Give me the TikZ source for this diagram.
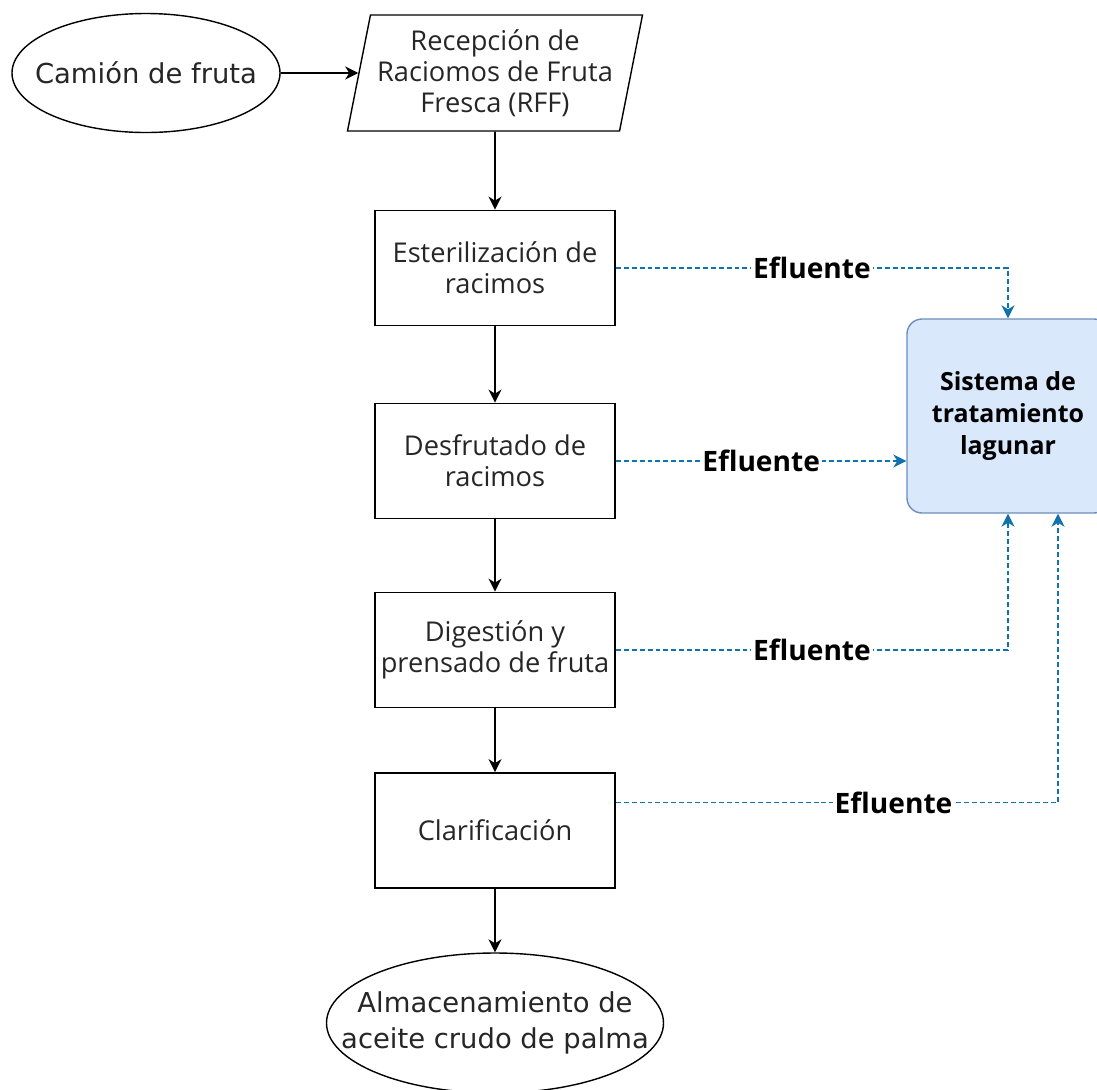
\documentclass[tikz,border=0pt]{standalone}
\usepackage{fontspec}
\setmainfont{Open Sans}
\newfontfamily\elipsefont{DejaVu Sans}
\usetikzlibrary{shapes,positioning,arrows,arrows.meta}

\definecolor{efluente}{RGB}{16,115,175}
\definecolor{lagunafill}{HTML}{DAE8FC}
\definecolor{lagunaline}{HTML}{6C8EBF}
\definecolor{texto}{HTML}{262626}

\begin{document}
\begin{tikzpicture}[
        font=\fontsize{15.5}{17.8}\selectfont,
        >={Stealth[length=2.6mm, width=2.6mm, inset=0.8mm]},
        proceso/.style={draw, line width=1pt, align=center, text=texto, minimum width=4.8cm, minimum height=2.3cm},
        terminal/.style={draw, ellipse, line width=0.8pt, align=center, text=texto, inner xsep=-0.4cm, inner ysep=0pt,
                         font=\elipsefont\fontsize{15.6}{20.5}\selectfont},
        flujo/.style={->, line width=1pt},
        residuo/.style={->, efluente, line width=0.8pt, dash pattern=on 2.8pt off 1.7pt},
        etiqueta/.style={fill=white, text=black, font=\fontsize{16}{18}\selectfont\bfseries, inner sep=1pt}
    ]
                \useasboundingbox (0, 0) rectangle (21.94, -21.78);
                % --------
                % Recepcion
                % --------
                \node[terminal, minimum width=5.36cm, minimum height=2.38cm, inner xsep=-0.5cm] at (2.92, -1.46) (camion) {Camión de fruta};
                \node[draw, trapezium, trapezium left angle=77, trapezium right angle=103, trapezium stretches body=true,
                      minimum width=5.9cm, minimum height=2.32cm, inner xsep=0pt, line width=0.8pt, align=center, text=texto]
                      at (9.9, -1.46) (recepcion) {Recepción de\\Raciomos de Fruta\\Fresca (RFF)};
                
                % --------
                % Proceso
                % --------
                \node[proceso] at (9.9, -5.36) (esteril) {Esterilización de\\racimos};
                \node[proceso] at (9.9, -9.22) (desfrut) {Desfrutado de\\racimos};
                \node[proceso] at (9.9, -13.0) (digest) {Digestión y\\prensado de fruta};
                \node[proceso] at (9.9, -16.61) (clarif) {Clarificación};
                
                \node[terminal, minimum width=6.74cm, minimum height=2.8cm, inner xsep=-0.7cm] at (9.9, -20.46) (almacen) {Almacenamiento de\\aceite crudo de palma};
                
                \node[draw=lagunaline, fill=lagunafill, rounded corners=0.3cm, line width=0.8pt, align=center,
                      minimum width=4.04cm, minimum height=3.88cm, font=\fontsize{14.2}{18.2}\selectfont\bfseries]
                      at (20.16, -8.32) (lagunar) {Sistema de\\tratamiento\\lagunar};
                
                % Draw line
                \draw[flujo] (camion) -- (recepcion);
                \draw[flujo] (recepcion) -- (esteril);
                \draw[flujo] (esteril) -- (desfrut);
                \draw[flujo] (desfrut) -- (digest);
                \draw[flujo] (digest) -- (clarif);
                \draw[flujo] (clarif) -- (almacen);
                
                % Efluentes
                \draw[residuo] (esteril.east) -| (lagunar.north) node[etiqueta, pos=0.25] {Efluente};
                \draw[residuo] (desfrut.east) -- (desfrut.east -| lagunar.west) node[etiqueta, midway] {Efluente};
                \draw[residuo] (digest.east) -| (lagunar.south) node[etiqueta, pos=0.25] {Efluente};
                \draw[residuo] ([yshift=0.56cm]clarif.east) -| ([xshift=1cm]lagunar.south) node[etiqueta, pos=0.314] {Efluente};
\end{tikzpicture}
\end{document}
